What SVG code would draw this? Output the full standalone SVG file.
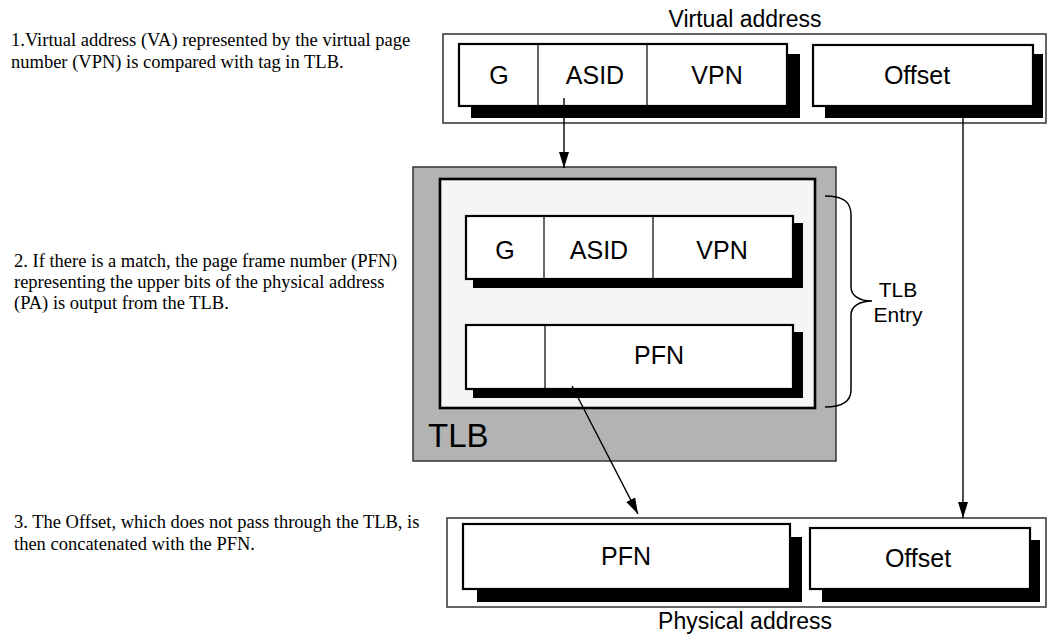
<svg xmlns="http://www.w3.org/2000/svg" width="1048" height="634" viewBox="0 0 1048 634">
<style>
.note{font-family:"Liberation Serif","Times New Roman",serif;font-size:18.5px;fill:#000}
.lbl{font-family:"Liberation Sans",Arial,sans-serif;font-size:25px;fill:#000;text-anchor:middle}
.side{font-family:"Liberation Sans",Arial,sans-serif;font-size:21px;fill:#000;text-anchor:middle}
.title{font-family:"Liberation Sans",Arial,sans-serif;font-size:23px;fill:#000;text-anchor:middle}
.outer{fill:#fff;stroke:#333;stroke-width:1.5}
.box{fill:#fff;stroke:#000;stroke-width:2.2}
.shadow{fill:#000}
.div{stroke:#000;stroke-width:1.2}
.conn{stroke:#000;stroke-width:1.4;fill:none}
</style>
<defs>
<marker id="ah" markerWidth="17" markerHeight="10" refX="16" refY="5" orient="auto" markerUnits="userSpaceOnUse">
<path d="M0,0 L16,5 L0,10 z" fill="#000"/>
</marker>
</defs>

<g id="notes">
<text class="note" x="11" y="46">1.Virtual address (VA) represented by the virtual page</text>
<text class="note" x="11" y="68">number (VPN) is compared with tag in TLB.</text>
<text class="note" x="14" y="267">2. If there is a match, the page frame number (PFN)</text>
<text class="note" x="14" y="288">representing the upper bits of the physical address</text>
<text class="note" x="14" y="309">(PA) is output from the TLB.</text>
<text class="note" x="14" y="528">3. The Offset, which does not pass through the TLB, is</text>
<text class="note" x="14" y="550">then concatenated with the PFN.</text>
</g>

<g id="virtual-address">
<text class="title" x="745" y="27">Virtual address</text>
<rect class="outer" x="443" y="34" width="603" height="89"/>
<rect class="shadow" x="471" y="54" width="329" height="64"/>
<rect class="box" x="459" y="44" width="328" height="62"/>
<line class="div" x1="538" y1="44" x2="538" y2="106"/>
<line class="div" x1="647" y1="44" x2="647" y2="106"/>
<text class="lbl" x="499" y="84">G</text>
<text class="lbl" x="595" y="84">ASID</text>
<text class="lbl" x="717" y="84">VPN</text>
<rect class="shadow" x="825" y="54" width="218" height="64"/>
<rect class="box" x="813" y="45" width="220" height="61"/>
<text class="lbl" x="917" y="84">Offset</text>
</g>

<g id="tlb">
<rect x="413" y="167" width="423" height="294" fill="#b3b3b3" stroke="#333" stroke-width="1.5"/>
<rect x="440" y="179" width="375" height="229" fill="#f5f5f5" stroke="#000" stroke-width="2.6"/>
<text x="428" y="447" font-family="'Liberation Sans',Arial,sans-serif" font-size="33" fill="#000">TLB</text>
<g id="tlb-tag">
<rect class="shadow" x="473" y="223" width="330" height="65"/>
<rect class="box" x="466" y="216" width="327" height="63"/>
<line class="div" x1="544" y1="216" x2="544" y2="279"/>
<line class="div" x1="653" y1="216" x2="653" y2="279"/>
<text class="lbl" x="505" y="259">G</text>
<text class="lbl" x="599" y="259">ASID</text>
<text class="lbl" x="722" y="259">VPN</text>
</g>
<g id="tlb-pfn">
<rect class="shadow" x="473" y="332" width="330" height="66"/>
<rect class="box" x="466" y="325" width="327" height="64"/>
<line class="div" x1="545" y1="325" x2="545" y2="389"/>
<text class="lbl" x="659" y="364">PFN</text>
</g>
</g>

<g id="tlb-entry">
<path d="M825,196 C845,196 851,203 851,215 L851,287 C851,296 860,301 872,301 C860,301 851,306 851,315 L851,390 C851,400 845,407 825,407" fill="none" stroke="#000" stroke-width="1.5"/>
<text class="side" x="898" y="297">TLB</text>
<text class="side" x="898" y="322">Entry</text>
</g>

<g id="physical-address">
<rect class="outer" x="447" y="518" width="599" height="89"/>
<rect class="shadow" x="477" y="537" width="325" height="65"/>
<rect class="box" x="463" y="524" width="327" height="65"/>
<text class="lbl" x="626" y="565">PFN</text>
<rect class="shadow" x="822" y="540" width="218" height="62"/>
<rect class="box" x="810" y="528" width="220" height="61"/>
<text class="lbl" x="918" y="567">Offset</text>
<text class="title" x="745" y="629">Physical address</text>
</g>

<g id="connectors">
<line class="conn" x1="564" y1="98" x2="564" y2="168" marker-end="url(#ah)"/>
<line class="conn" x1="963" y1="118" x2="963" y2="518" marker-end="url(#ah)"/>
<line class="conn" x1="572" y1="386" x2="638" y2="514" marker-end="url(#ah)"/>
</g>
</svg>
